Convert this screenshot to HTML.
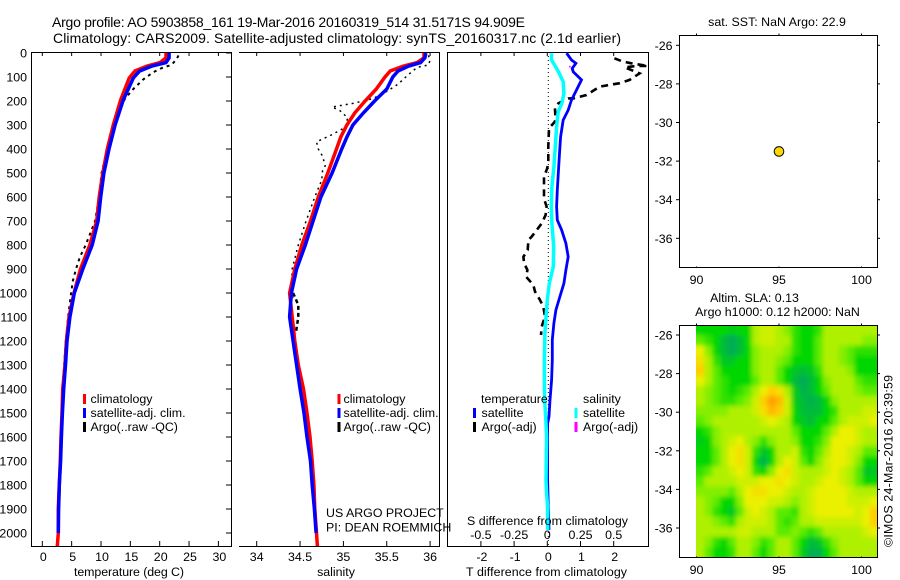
<!DOCTYPE html>
<html>
<head>
<meta charset="utf-8">
<title>Argo profile</title>
<style>
html,body{margin:0;padding:0;background:#fff;}
svg{display:block;font-family:"Liberation Sans",sans-serif;font-size:12.4px;fill:#000;}
</style>
</head>
<body>
<svg id="chart" xmlns="http://www.w3.org/2000/svg" width="900" height="580" viewBox="0 0 900 580">
<defs>
<clipPath id="c1"><rect x="32" y="52" width="199" height="494"/></clipPath>
<clipPath id="c2"><rect x="239" y="52" width="201" height="494"/></clipPath>
<clipPath id="c3"><rect x="448" y="52" width="201" height="494"/></clipPath>
<clipPath id="c5"><rect x="696" y="326" width="181.5" height="231"/></clipPath>
<filter id="soft" x="-10%" y="-10%" width="120%" height="120%"><feGaussianBlur stdDeviation="2.4"/></filter>
</defs>
<text x="52" y="27" font-size="14" textLength="473">Argo profile: AO 5903858_161 19-Mar-2016 20160319_514 31.5171S 94.909E</text>
<text x="53" y="43" font-size="14" textLength="568">Climatology: CARS2009. Satellite-adjusted climatology: synTS_20160317.nc (2.1d earlier)</text>
<g id="heat"></g>
<g id="plots"></g>
<text x="74" y="576" textLength="110">temperature (deg C)</text>
<text x="336" y="576" text-anchor="middle">salinity</text>
<text x="466" y="576" textLength="161">T difference from climatology</text>
<text x="467" y="525" textLength="161">S difference from climatology</text>
<text x="326" y="517">US ARGO PROJECT</text>
<text x="326" y="531.5">PI: DEAN ROEMMICH</text>
<text x="777" y="26" text-anchor="middle">sat. SST: NaN Argo: 22.9</text>
<text x="754.5" y="302" text-anchor="middle">Altim. SLA: 0.13</text>
<text x="777.5" y="316" text-anchor="middle">Argo h1000: 0.12 h2000: NaN</text>
<text transform="translate(892.5,547) rotate(-90)" textLength="172">©IMOS 24-Mar-2016 20:39:59</text>
</svg>
<script>
// ---- depth tick labels and axis tick labels ----
const depthTicks = [0,100,200,300,400,500,600,700,800,900,1000,1100,1200,1300,1400,1500,1600,1700,1800,1900,2000];
const tempTicks = [0,5,10,15,20,25,30];
const salTicks = [34,34.5,35,35.5,36];
const salTickLabels = ['34','34.5','35','35.5','36'];
const dtTicks = [-2,-1,0,1,2];
const dsTicks = [-0.5,-0.25,0,0.25,0.5];
const dsTickLabels = ['-0.5','-0.25','0','0.25','0.5'];
const lonTicks = [90,95,100];
const latTicks = [-26,-28,-30,-32,-34,-36];

// ---- temperature panel ----
const climTempDepth = [0,20,40,55,75,104,195,300,400,500,600,700,800,900,1000,1100,1200,1300,1400,1500,1600,1700,1800,1900,2000,2055];
const climTemp = [21.07,21.07,20.05,17.8,15.8,14.8,13.35,12.1,11.07,10.3,9.7,9.26,8.1,6.5,5.4,4.55,4.1,3.87,3.47,3.36,3.19,3.07,2.9,2.73,2.73,2.56];
const satTempDepth = [0,20,40,55,75,104,150,195,300,400,500,600,700,800,900,1000,1100,1200,1300,1400,1500,1600,1700,1800,1900,2000];
const satTemp = [21.6,21.6,21.07,18.6,16.6,15.5,14.65,13.8,12.4,11.36,10.5,9.95,9.5,8.5,6.9,5.45,4.7,4.2,3.95,3.65,3.42,3.25,3.12,2.9,2.78,2.73];
const argoTempDepth = [10,25,50,60,80,110,150,190,250,300,400,500,600,700,750,800,850,900,950,1000,1100,1200,1400];
const argoTemp = [23.2,22.9,22.0,20.6,18.9,17.2,15.5,14.1,12.7,12.0,11.07,10.1,9.66,9.0,8.2,7.4,6.4,5.74,5.2,4.9,4.4,4.0,3.45];

// ---- salinity panel ----
const climSalDepth = [0,20,40,55,75,100,150,200,250,300,350,400,500,600,700,800,900,1000,1100,1200,1300,1400,1500,1600,1700,1800,1900,2000,2055];
const climSal = [35.93,35.93,35.85,35.69,35.54,35.48,35.38,35.25,35.13,35.04,34.97,34.92,34.82,34.71,34.62,34.52,34.44,34.38,34.41,34.44,34.48,34.54,34.58,34.615,34.64,34.66,34.67,34.69,34.70];
const satSalDepth = [0,20,40,55,75,100,150,200,250,300,350,400,500,600,700,800,900,1000,1100,1200,1300,1400,1500,1600,1700,1800,1900,2000];
const satSal = [35.95,35.94,35.89,35.75,35.63,35.57,35.5,35.36,35.23,35.11,35.04,34.98,34.87,34.74,34.65,34.56,34.46,34.40,34.38,34.42,34.46,34.5,34.545,34.58,34.62,34.64,34.665,34.685];
const argoSalDepth = [10,30,50,60,90,130,160,190,210,225,240,270,310,340,370,400,430,470,490,530,600,700,800,900,1000,1020];
const argoSal = [35.98,36.0,35.98,35.85,35.75,35.63,35.5,35.34,35.11,34.87,34.96,35.05,35.02,34.87,34.69,34.71,34.76,34.79,34.76,34.75,34.67,34.57,34.48,34.41,34.40,34.42];
const argoSalDeepDepth = [1000,1050,1100,1170];
const argoSalDeep = [34.42,34.48,34.48,34.45];

// ---- difference panel ----
const dTSatDepth = [1,29,43,64,78,112,154,196,238,279,349,432,501,571,640,696,737,793,849,904,960,1015,1071,1126,1196,1279,1362,1446,1515,1543,1779,1890,1987];
const dTSat = [.58,.73,.86,.75,.78,1.03,.88,.73,.63,.48,.40,.36,.33,.30,.28,.30,.43,.56,.63,.56,.50,.38,.26,.20,.15,.15,.13,.08,.05,.01,.01,.03,.05];
const dSSatDepth = [1,29,64,85,120,168,210,244,307,390,474,557,640,710,807,890,960,1029,1099,1168,1279,1362,1446,1515,1600,1779,1835,1890,1987];
const dSSat = [.032,.032,.07,.09,.12,.125,.11,.082,.07,.06,.05,.035,.03,.035,.048,.045,.015,0,-.01,-.018,-.022,-.022,-.02,-.012,-.005,-.01,-.005,.002,.002];
const dTArgoDepth = [22,36,43,54,54,60,71,85,112,126,140,175,189,189,210,230,272,286,314,390,446,480,515,543,585,606,640,675,710,738,765,779,821,849,876,904,932,967,994,1029,1057,1098,1140,1175];
const dTArgo = [2.02,2.28,2.53,3.03,2.68,2.33,2.53,2.78,2.48,2.18,1.58,1.18,.78,.63,.33,.23,.25,.23,.05,.03,.03,0,-.10,-.10,-.10,-.10,-.02,-.05,-.17,-.32,-.47,-.57,-.59,-.72,-.70,-.60,-.64,-.42,-.37,-.22,-.12,-.07,-.17,-.19];
const dSArgoDepth = [53,60];
const dSArgo = [.17,.17];

// ---- map panels ----
const floatLon = [95];
const floatLat = [-31.5];
// SLA colour level per grid cell, north to south, west to east
const slaLevels = [
[1,1,1,1,.8,1,1,3,3.5,3.5,3,2.5,1.5,1,1,1.5,3,3,3,3,3,3,3],
[2,1.5,1,.5,.2,.5,1,3,3.5,3.5,3,3,1.5,1,1,2,3,3,3,3,3,2.5,2.5],
[4,2.5,1,.5,.2,.5,1,2.5,3,3,3,2.5,1.5,1,1,2,3,3,2.5,2,1.5,1.5,1.5],
[4.5,3,1.5,.7,.7,1,1,2.5,3,3,2.5,2,1,1,1,2,3,3,2.5,2,1,1,1],
[5,3,2,1,1,1,1,2.5,3,3,2,1,.7,.5,.7,1.5,3,3,3,2.5,1,1,1],
[4,3,2,1.5,1,1,1,2,3,3,2,1,.5,.2,.5,1,2.5,3,3,3,2,1.5,1.5],
[3,2.5,2,1.5,1,1.5,2,3,4,5,4.5,3,.8,.3,.5,1,2,3,3,3,2.5,2,2],
[3,2.5,2,1.5,1.5,2,2.5,3.5,5,6,5.5,3.5,.8,.5,.3,.5,1,2.5,3,3,3,3,3],
[2.5,2.5,2.5,2.5,3,3,3,3.5,4.5,5.5,5,3.5,1,.5,.5,.5,1,1.5,3,3,3,3.5,3.5],
[2,2.5,3,3,3,3,3,3,3.5,4,3.5,3,1,.7,.5,1,1,2,3,3.5,3.5,3.5,4],
[1,1.5,2.5,3,3,3,3,3,3,3,3,3,2,1,1,1,2,3,4,4,3.5,3,3],
[.8,1,2.5,3,3.5,4,3,2.5,1.5,2.5,3,3,2.5,1,1,1.5,2.5,4,4,4,3.5,3,3],
[1,1,2,3,4,4.5,3.5,1.5,.7,1,3,3,3.5,1.5,1,2,3,4,4,3.5,3,2,2],
[1,1,2,3,4,4.5,3.5,1,.3,1,3,4,3.5,2,1,2.5,3.5,4,4,3.5,2.5,1,1],
[1.5,2,3,3,3.5,4,3.5,1.5,1,2.5,4,4.5,3.5,3,3,3,3.5,4,3.5,3,2,.7,.7],
[2,3,3,3,3,3.5,3.5,3.5,4,4,4.5,4,3.5,3,3,3.5,4,4,3.5,3,2,1,1],
[2.5,2.5,2.5,2.5,2,3,4,4.5,4.5,4,4,3.5,3,3,3.5,4,4,4,4,3.5,3,3,3],
[3,2.5,2,1,1,2.5,4,4,4,3.5,3.5,3,2.5,3,3.5,4,4,4,4,3.5,3.5,3.5,4],
[3,2.5,1.5,1,.7,2,3.5,4,3.5,3,2,2,1.5,3,3.5,4,4,4,4,4,3.5,4,5],
[3,3,2.5,2,1.5,3,3.5,3.5,3.5,3,2,1.5,2,3,3,3.5,3.5,3.5,3.5,3.5,3.5,4,5],
[3,3,3,3,3,3.5,3.5,3,3,3,2,2,2.5,2,1.5,2,3,3,3,3,3,3.5,4],
[3,2.5,1.5,1,2,3,3,2.5,1.5,2,3,3,2,1,.5,.7,1.5,2.5,3,3,3,3,3],
[3,2,1,1,1.5,3,3,2,1,2,3,3,2,.8,.3,.3,1,2,3,3,3,3,3]
];

// ---- axis functions ----
const yDepth = d => 53 + 0.24 * d;
const xTemp = t => 42.3 + 5.87 * t;
const xSal = s => 256.7 + 86.7 * (s - 34);
const xDT = t => 547.3 + 33.2 * t;
const xDS = s => 547.3 + 132.8 * s;
const xLon = l => 696.5 + 16.5 * (l - 90);
const yLatTop = l => 45.3 + 19.3 * (-26 - l);
const yLatBot = l => 335 + 19.3 * (-26 - l);

const NS = 'http://www.w3.org/2000/svg';
const plots = document.getElementById('plots');
function mk(tag, attrs, parent) {
  const e = document.createElementNS(NS, tag);
  for (const k in attrs) e.setAttribute(k, attrs[k]);
  (parent || plots).appendChild(e);
  return e;
}
function seg(x1, y1, x2, y2, name) {
  const e = mk('line', {x1: x1, y1: y1, x2: x2, y2: y2, stroke: '#000', 'stroke-width': 1});
  
  
  return e;
}
function label(x, y, s, anchor, name) {
  const e = mk('text', {x: x, y: y, 'text-anchor': anchor || 'start'});
  e.textContent = s;
  
  
  return e;
}
function profile(xs, ys, fx, color, width, dash, clip, name) {
  const pts = xs.map((v, i) => fx(v).toFixed(1) + ',' + yDepth(ys[i]).toFixed(1)).join(' ');
  const attrs = {points: pts, fill: 'none', stroke: color, 'stroke-width': width, 'clip-path': 'url(#' + clip + ')'};
  if (dash) attrs['stroke-dasharray'] = dash;
  const e = mk('polyline', attrs);
  
  
  return e;
}
function legendBar(x, y, color, name) {
  const e = mk('rect', {x: x, y: y - 5, width: 3, height: 10, fill: color});
  
  
}

// ---- heatmap ----
const heat = document.getElementById('heat');
const clipG = mk('g', {'clip-path': 'url(#c5)'}, heat);
const softG = mk('g', {filter: 'url(#soft)'}, clipG);
const slaStops = [[0,[0,160,110]],[1,[0,215,0]],[2,[90,235,0]],[3,[175,240,0]],[4,[235,240,0]],[5,[255,205,0]],[6,[255,160,0]]];
function slaColor(v) {
  let i = Math.min(Math.max(Math.floor(v), 0), 5);
  const f = v - i;
  const a = slaStops[i][1], b = slaStops[i + 1][1];
  return 'rgb(' + a.map((c, k) => Math.round(c + (b[k] - c) * f)).join(',') + ')';
}
const lonStep = 11 / slaLevels[0].length;
const latStep = 12 / slaLevels.length;
slaLevels.forEach((row, r) => {
  row.forEach((v, c) => {
    const x0 = xLon(90 + c * lonStep), x1 = xLon(90 + (c + 1) * lonStep);
    const y0 = yLatBot(-25.5 - r * latStep), y1 = yLatBot(-25.5 - (r + 1) * latStep);
    const ox = c === 0 ? 14 : 0, ex = c === row.length - 1 ? 14 : 0;
    const oy = r === 0 ? 14 : 0, ey = r === slaLevels.length - 1 ? 14 : 0;
    const cell = mk('rect', {x: (x0 - ox).toFixed(1), y: (y0 - oy).toFixed(1), width: (x1 - x0 + ox + ex + 0.5).toFixed(1), height: (y1 - y0 + oy + ey + 0.5).toFixed(1), fill: slaColor(v)}, softG);
    
    
  });
});

// ---- temperature panel ----
seg(32, 52.5, 231, 52.5, 'temperature-top-axis');
seg(32, 546.5, 231, 546.5, 'temperature-bottom-axis');
seg(31.5, 52, 31.5, 547, 'depth-axis');
seg(231.5, 52, 231.5, 547, 'temperature-right-axis');
depthTicks.forEach(d => {
  seg(226, yDepth(d), 231, yDepth(d), 'depth-tick');
  label(27, yDepth(d) + 4.5, String(d), 'end', 'depth-tick-label');
});
tempTicks.forEach(t => {
  seg(xTemp(t), 52, xTemp(t), 56, 'temperature-tick');
  seg(xTemp(t), 541, xTemp(t), 546, 'temperature-tick');
  label(xTemp(t) + 1, 561, String(t), 'middle', 'temperature-tick-label');
});
profile(argoTemp, argoTempDepth, xTemp, '#000', 2, '3 4', 'c1', 'argo-temperature-line');
profile(climTemp, climTempDepth, xTemp, '#f00', 3.5, '', 'c1', 'climatology-temperature-line');
profile(satTemp, satTempDepth, xTemp, '#00f', 3.5, '', 'c1', 'satellite-temperature-line');
legendBar(83, 399, '#f00', 'legend-climatology-swatch');
legendBar(83, 413, '#00f', 'legend-satellite-swatch');
legendBar(83, 427, '#000', 'legend-argo-swatch');
label(90.5, 403, 'climatology', 'start', 'legend-climatology');
label(90.5, 417, 'satellite-adj. clim.', 'start', 'legend-satellite');
label(90.5, 431, 'Argo(..raw -QC)', 'start', 'legend-argo');

// ---- salinity panel ----
seg(239, 52.5, 440, 52.5, 'salinity-top-axis');
seg(239, 546.5, 440, 546.5, 'salinity-bottom-axis');
seg(439.5, 52, 439.5, 547, 'salinity-right-axis');
salTicks.forEach((s, i) => {
  seg(xSal(s), 52, xSal(s), 56, 'salinity-tick');
  seg(xSal(s), 541, xSal(s), 546, 'salinity-tick');
  label(xSal(s), 561, salTickLabels[i], 'middle', 'salinity-tick-label');
});
profile(argoSal, argoSalDepth, xSal, '#000', 1.5, '2 4', 'c2', 'argo-salinity-line');
profile(argoSalDeep, argoSalDeepDepth, xSal, '#000', 2.5, '4 3', 'c2', 'argo-salinity-deep-line');
profile(climSal, climSalDepth, xSal, '#f00', 3.5, '', 'c2', 'climatology-salinity-line');
profile(satSal, satSalDepth, xSal, '#00f', 3.5, '', 'c2', 'satellite-salinity-line');
legendBar(337.5, 399, '#f00', 'legend-climatology-swatch');
legendBar(337.5, 413, '#00f', 'legend-satellite-swatch');
legendBar(337.5, 427, '#000', 'legend-argo-swatch');
label(343.5, 403, 'climatology', 'start', 'legend-climatology');
label(343.5, 417, 'satellite-adj. clim.', 'start', 'legend-satellite');
label(343.5, 431, 'Argo(..raw -QC)', 'start', 'legend-argo');

// ---- difference panel ----
seg(447, 52.5, 649, 52.5, 'difference-top-axis');
seg(447, 546.5, 649, 546.5, 'difference-bottom-axis');
seg(447.5, 52, 447.5, 547, 'difference-left-axis');
seg(648.5, 52, 648.5, 547, 'difference-right-axis');
dtTicks.forEach(t => {
  seg(xDT(t), 52, xDT(t), 56, 'dt-tick');
  seg(xDT(t), 541, xDT(t), 546, 'dt-tick');
  label(xDT(t) + 1, 561, String(t), 'middle', 'dt-tick-label');
});
dsTicks.forEach((s, i) => {
  label(xDS(s), 539, dsTickLabels[i], 'middle', 'ds-tick-label');
});
const zeroLine = mk('line', {x1: xDT(0) + 1, y1: 52, x2: xDT(0) + 1, y2: 546, stroke: '#000', 'stroke-width': 1, 'stroke-dasharray': '1 3'});


profile(dTArgo, dTArgoDepth, xDT, '#000', 2.6, '7 5', 'c3', 'argo-temperature-difference-line');
profile(dTSat, dTSatDepth, xDT, '#00f', 2.8, '', 'c3', 'satellite-temperature-difference-line');
profile(dSSat, dSSatDepth, xDS, '#0ff', 3.5, '', 'c3', 'satellite-salinity-difference-line');
profile(dSArgo, dSArgoDepth, xDS, '#f0f', 1.5, '', 'c3', 'argo-salinity-difference-line');
label(481, 403, 'temperature', 'start', 'legend-temperature-heading');
label(583, 403, 'salinity', 'start', 'legend-salinity-heading');
legendBar(473, 413, '#00f', 'legend-t-satellite-swatch');
legendBar(473, 427, '#000', 'legend-t-argo-swatch');
legendBar(574.5, 413, '#0ff', 'legend-s-satellite-swatch');
legendBar(574.5, 427, '#f0f', 'legend-s-argo-swatch');
label(481.5, 417, 'satellite', 'start', 'legend-t-satellite');
label(481.5, 431, 'Argo(-adj)', 'start', 'legend-t-argo');
label(583, 417, 'satellite', 'start', 'legend-s-satellite');
label(583, 431, 'Argo(-adj)', 'start', 'legend-s-argo');

// ---- map panels ----
[[35.5, 267.5, yLatTop, 284, 'sst'], [325.5, 557.5, yLatBot, 574, 'sla']].forEach(p => {
  const top = p[0], bot = p[1], fy = p[2], base = p[3], nm = p[4];
  seg(679, top, 878, top, nm + '-top-axis');
  seg(679, bot, 878, bot, nm + '-bottom-axis');
  seg(679.5, top, 679.5, bot, nm + '-left-axis');
  seg(877.5, top, 877.5, bot, nm + '-right-axis');
  lonTicks.forEach(l => {
    seg(xLon(l), top - 2, xLon(l), top, nm + '-lon-tick');
    seg(xLon(l), bot - 1, xLon(l), bot, nm + '-lon-tick');
    label(xLon(l), base, String(l), 'middle', nm + '-lon-label');
  });
  latTicks.forEach(l => {
    seg(676, fy(l), 679, fy(l), nm + '-lat-tick');
    seg(878, fy(l), 880, fy(l), nm + '-lat-tick');
    label(672.5, fy(l) + 4.5, String(l), 'end', nm + '-lat-label');
  });
});
floatLon.forEach((l, i) => {
  const marker = mk('circle', {cx: xLon(l), cy: yLatTop(floatLat[i]), r: 4.8, fill: '#ffd800', stroke: '#000', 'stroke-width': 1});
  
  
});
</script>
</body>
</html>
